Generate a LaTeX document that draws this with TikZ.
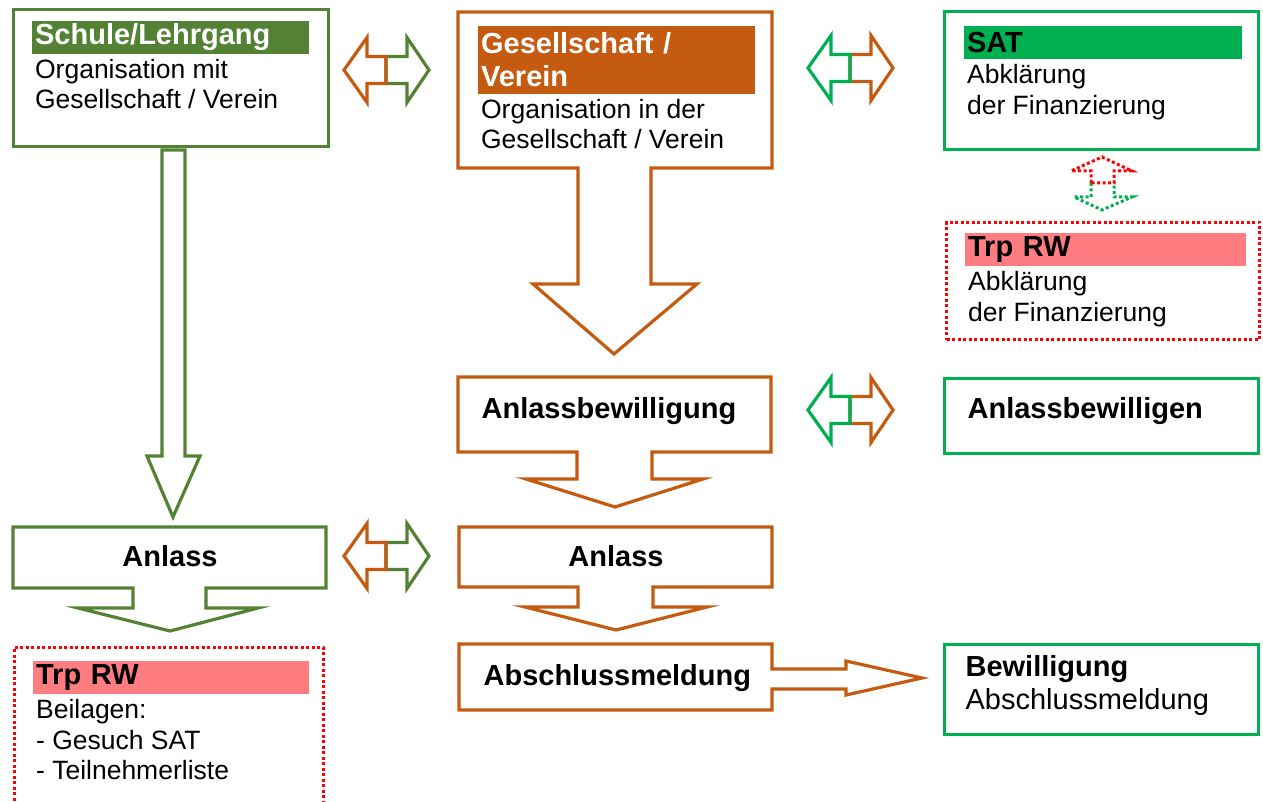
\documentclass[tikz,border=0pt]{standalone}
\usepackage{fontspec}
\setmainfont{Liberation Sans}

\definecolor{schulgruen}{HTML}{548235}
\definecolor{satgruen}{HTML}{00B050}
\definecolor{vereinorange}{HTML}{C55A11}
\definecolor{trprot}{HTML}{FF0000}
\definecolor{trprosa}{HTML}{FF7C80}

\newcommand\kopffont{\fontsize{29}{33}\selectfont\bfseries}
\newcommand\inhaltfont{\fontsize{26.5}{30.5}\selectfont}

\begin{document}
\begin{tikzpicture}[x=1pt,y=-1pt,line width=3.2pt,line join=miter,
  kasten/.style={draw,anchor=north west,inner sep=0pt},
  kopf/.style={anchor=north west,inner xsep=3.5pt,inner ysep=0pt,minimum height=33pt,text width=270pt,align=left,font=\kopffont},
  inhalt/.style={anchor=north west,inner xsep=3.5pt,inner ysep=2.5pt,align=left,font=\inhaltfont},
  titel/.style={inner sep=0pt,font=\kopffont},
  punkte/.style={line width=3pt,dash pattern=on 3pt off 2.5pt}]
\useasboundingbox (0,0) rectangle (1263,802);

% linke Spalte
\node[kasten,draw=schulgruen,minimum width=315pt,minimum height=137pt] (schule) at (12,8) {};
\node[kopf,fill=schulgruen,text=white] (schulekopf) at (30,19) {Schule/Lehrgang};
\node[inhalt] (schuletext) at (schulekopf.south west) {Organisation mit\\Gesellschaft / Verein};
\draw[schulgruen] (162,150) -- (185,150) -- (185,456) -- (200,456) -- (173,517) -- (147,456) -- (162,456) -- cycle;
\draw[schulgruen] (13,527) -- (326,527) -- (326,588) -- (206,588) -- (206,608) -- (258,608) -- (170,631) -- (78,608) -- (133,608) -- (133,588) -- (13,588) -- cycle;
\node[titel] (anlassg) at (170,556.5) {Anlass};
\draw[trprot,punkte] (14,806) -- (14,647) -- (323,647) -- (323,806);
\node[kopf,fill=trprosa,text width=269pt] (trpkopf) at (31,659) {Trp RW};
\node[inhalt] (trptext) at (trpkopf.south west) {Beilagen:\\- Gesuch SAT\\- Teilnehmerliste};

% mittlere Spalte
\draw[vereinorange] (458,12) -- (772,12) -- (772,168) -- (651,168) -- (651,284) -- (697,284) -- (614,354) -- (533,284) -- (578,284) -- (578,168) -- (458,168) -- cycle;
\node[kopf,fill=vereinorange,text=white,minimum height=68pt] (vereinkopf) at (476,24) {Gesellschaft /\\Verein};
\node[inhalt] (vereintext) at (vereinkopf.south west) {Organisation in der\\Gesellschaft / Verein};
\draw[vereinorange] (458,377) -- (771,377) -- (771,452) -- (652,452) -- (652,479) -- (703,479) -- (615,507) -- (526,479) -- (577,479) -- (577,452) -- (458,452) -- cycle;
\node[titel,anchor=base west] (bewilligung) at (480,418) {Anlassbewilligung};
\draw[vereinorange] (459,527) -- (772,527) -- (772,587) -- (653,587) -- (653,607) -- (707,607) -- (616,630) -- (525,607) -- (578,607) -- (578,587) -- (459,587) -- cycle;
\node[titel] (anlasso) at (616,556.5) {Anlass};
\draw[vereinorange] (459,644) -- (772,644) -- (772,669) -- (846,669) -- (846,661) -- (922,678) -- (846,695) -- (846,689) -- (772,689) -- (772,710) -- (459,710) -- cycle;
\node[titel,anchor=base west] (abschluss) at (482,685) {Abschlussmeldung};

% rechte Spalte
\node[kasten,draw=satgruen,minimum width=314pt,minimum height=138pt] (sat) at (943,10) {};
\node[kopf,fill=satgruen,text width=271pt] (satkopf) at (962,24) {SAT};
\node[inhalt] (sattext) at (satkopf.south west) {Abklärung\\der Finanzierung};
\draw[satgruen,punkte] (1091,183) -- (1091,197) -- (1074,197) -- (1102,210) -- (1132,197) -- (1114,197) -- (1114,183);
\draw[trprot,punkte] (1091,183) -- (1091,171) -- (1071,171) -- (1102,157) -- (1132,171) -- (1114,171) -- (1114,183) -- cycle;
\node[kasten,draw=trprot,punkte,minimum width=313pt,minimum height=117pt] (trpsat) at (945,221) {};
\node[kopf,fill=trprosa,text width=274pt] (trpsatkopf) at (963,231) {Trp RW};
\node[inhalt] (trpsattext) at (trpsatkopf.south west) {Abklärung\\der Finanzierung};
\node[kasten,draw=satgruen,minimum width=314pt,minimum height=75pt] (bewsat) at (943,377) {};
\node[titel,anchor=base west] (bewsattext) at (966,418) {Anlassbewilligen};
\node[kasten,draw=satgruen,minimum width=314pt,minimum height=90pt] (ende) at (943,643) {};
\node[titel,anchor=base west] (endetitel) at (964,676) {Bewilligung};
\node[anchor=base west,inner sep=0pt,font=\fontsize{29}{33}\selectfont] (endetext) at (964,709) {Abschlussmeldung};

% Doppelpfeile
\foreach \x/\y/\links/\rechts in {386/70/vereinorange/schulgruen, 850/68/satgruen/vereinorange, 850/410/satgruen/vereinorange, 386/556/vereinorange/schulgruen} {
  \draw[\rechts] (\x,\y-13.5) -- (\x+21,\y-13.5) -- (\x+21,\y-32.5) -- (\x+43,\y) -- (\x+21,\y+32.5) -- (\x+21,\y+13.5) -- (\x,\y+13.5) -- cycle;
  \draw[\links] (\x,\y-13.5) -- (\x-19,\y-13.5) -- (\x-19,\y-32.5) -- (\x-42,\y) -- (\x-19,\y+32.5) -- (\x-19,\y+13.5) -- (\x,\y+13.5) -- cycle;
}
\end{tikzpicture}
\end{document}
